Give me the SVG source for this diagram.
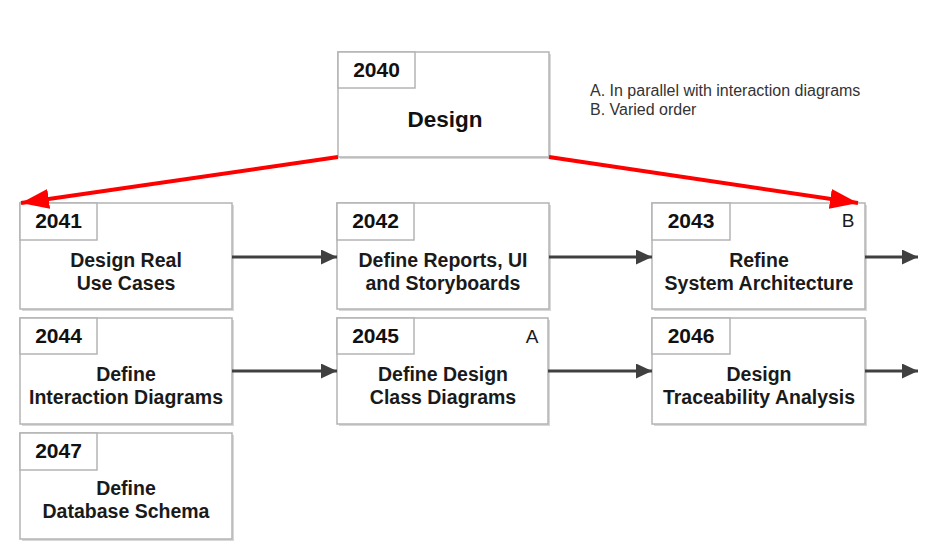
<svg xmlns="http://www.w3.org/2000/svg" width="930" height="559" viewBox="0 0 930 559">
  <defs>
    <marker id="redHead" markerUnits="userSpaceOnUse" markerWidth="28" markerHeight="20" refX="28" refY="10" orient="auto">
      <path d="M0,0 L28,10 L0,20 Z" fill="#ff0000"/>
    </marker>
    <marker id="grayHead" markerUnits="userSpaceOnUse" markerWidth="16" markerHeight="15" refX="16" refY="7.5" orient="auto">
      <path d="M0,0 L16,7.5 L0,15 Z" fill="#404040"/>
    </marker>
  </defs>
  <style>
    .box { fill: #ffffff; stroke: #b4b4b4; stroke-width: 1.5; }
    .shadow { fill: #d8d8d8; }
    .tab { fill: #ffffff; stroke: #b4b4b4; stroke-width: 1.5; }
    .id { font-family: "Liberation Sans", Arial, sans-serif; font-weight: bold; font-size: 21px; fill: #111; text-anchor: middle; }
    .lbl { font-family: "Liberation Sans", Arial, sans-serif; font-weight: bold; font-size: 19.5px; fill: #1a1a1a; text-anchor: middle; }
    .title { font-family: "Liberation Sans", Arial, sans-serif; font-weight: bold; font-size: 22.5px; fill: #111; text-anchor: middle; }
    .mark { font-family: "Liberation Sans", Arial, sans-serif; font-size: 19px; fill: #1a1a1a; text-anchor: middle; }
    .note { font-family: "Liberation Sans", Arial, sans-serif; font-size: 16px; fill: #333; }
    .red { stroke: #ff0000; stroke-width: 4; fill: none; }
    .flow { stroke: #404040; stroke-width: 3; fill: none; }
  </style>
  <rect width="930" height="559" fill="#ffffff"/>

  <g id="notes">
    <text class="note" x="590" y="96">A. In parallel with interaction diagrams</text>
    <text class="note" x="590" y="115">B. Varied order</text>
  </g>

  <g id="n2040">
    <rect class="shadow" x="340" y="54" width="211" height="105"/>
    <rect class="box" x="338" y="52" width="211" height="105"/>
    <rect class="tab" x="338" y="52" width="77" height="36"/>
    <text class="id" x="376.5" y="77">2040</text>
    <text class="title" x="445" y="127">Design</text>
  </g>

  <g id="n2041">
    <rect class="shadow" x="22" y="205" width="212" height="106"/>
    <rect class="box" x="20" y="203" width="212" height="106"/>
    <rect class="tab" x="20" y="203" width="77" height="37"/>
    <text class="id" x="58.5" y="228">2041</text>
    <text class="lbl" x="126" y="267">Design Real</text>
    <text class="lbl" x="126" y="290">Use Cases</text>
  </g>

  <g id="n2042">
    <rect class="shadow" x="339" y="205" width="212" height="106"/>
    <rect class="box" x="337" y="203" width="212" height="106"/>
    <rect class="tab" x="337" y="203" width="77" height="37"/>
    <text class="id" x="375.5" y="228">2042</text>
    <text class="lbl" x="443" y="267">Define Reports, UI</text>
    <text class="lbl" x="443" y="290">and Storyboards</text>
  </g>

  <g id="n2043">
    <rect class="shadow" x="654" y="205" width="213" height="106"/>
    <rect class="box" x="652" y="203" width="213" height="106"/>
    <rect class="tab" x="652" y="203" width="78" height="37"/>
    <text class="id" x="691" y="228">2043</text>
    <text class="mark" x="848" y="227">B</text>
    <text class="lbl" x="759" y="267">Refine</text>
    <text class="lbl" x="759" y="290">System Architecture</text>
  </g>

  <g id="n2044">
    <rect class="shadow" x="22" y="320" width="212" height="106"/>
    <rect class="box" x="20" y="318" width="212" height="106"/>
    <rect class="tab" x="20" y="318" width="77" height="36"/>
    <text class="id" x="58.5" y="343">2044</text>
    <text class="lbl" x="126" y="381">Define</text>
    <text class="lbl" x="126" y="404">Interaction Diagrams</text>
  </g>

  <g id="n2045">
    <rect class="shadow" x="339" y="320" width="211" height="106"/>
    <rect class="box" x="337" y="318" width="211" height="106"/>
    <rect class="tab" x="337" y="318" width="77" height="36"/>
    <text class="id" x="375.5" y="343">2045</text>
    <text class="mark" x="532" y="343">A</text>
    <text class="lbl" x="443" y="381">Define Design</text>
    <text class="lbl" x="443" y="404">Class Diagrams</text>
  </g>

  <g id="n2046">
    <rect class="shadow" x="654" y="320" width="213" height="106"/>
    <rect class="box" x="652" y="318" width="213" height="106"/>
    <rect class="tab" x="652" y="318" width="78" height="36"/>
    <text class="id" x="691" y="343">2046</text>
    <text class="lbl" x="759" y="381">Design</text>
    <text class="lbl" x="759" y="404">Traceability Analysis</text>
  </g>

  <g id="n2047">
    <rect class="shadow" x="22" y="435" width="212" height="106"/>
    <rect class="box" x="20" y="433" width="212" height="106"/>
    <rect class="tab" x="20" y="433" width="77" height="37"/>
    <text class="id" x="58.5" y="458">2047</text>
    <text class="lbl" x="126" y="495">Define</text>
    <text class="lbl" x="126" y="518">Database Schema</text>
  </g>

  <g id="connectors">
    <line class="red" x1="338" y1="157" x2="21" y2="203" marker-end="url(#redHead)"/>
    <line class="red" x1="549" y1="157" x2="858" y2="203" marker-end="url(#redHead)"/>
    <line class="flow" x1="232" y1="257" x2="337" y2="257" marker-end="url(#grayHead)"/>
    <line class="flow" x1="549" y1="257" x2="652" y2="257" marker-end="url(#grayHead)"/>
    <line class="flow" x1="865" y1="257" x2="918" y2="257" marker-end="url(#grayHead)"/>
    <line class="flow" x1="232" y1="371" x2="337" y2="371" marker-end="url(#grayHead)"/>
    <line class="flow" x1="548" y1="371" x2="652" y2="371" marker-end="url(#grayHead)"/>
    <line class="flow" x1="865" y1="371" x2="918" y2="371" marker-end="url(#grayHead)"/>
  </g>
</svg>
